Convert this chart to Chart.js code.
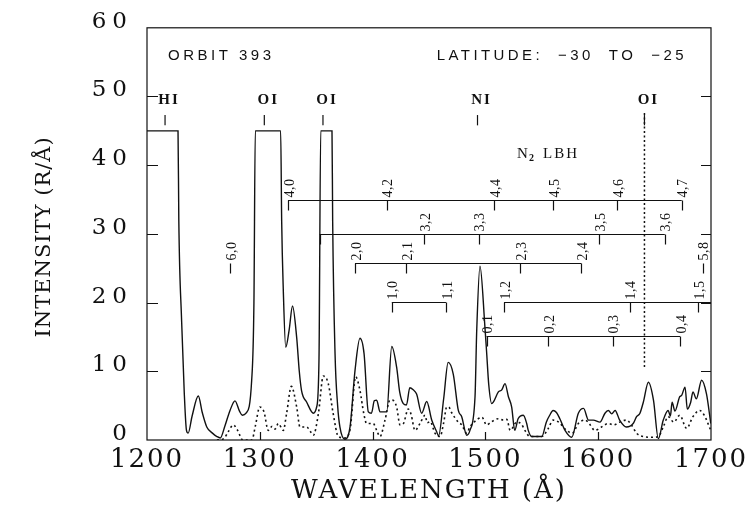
<!DOCTYPE html>
<html lang="en">
<head>
<meta charset="UTF-8">
<title>Orbit 393 FUV spectrum</title>
<script src="https://cdn.jsdelivr.net/npm/chart.js"></script>
<style>
  body { margin: 0; background: #fff; }
  #wrap { width: 755px; height: 510px; }
</style>
</head>
<body>
<div id="wrap"><canvas id="spectrum" width="755" height="510"></canvas></div>
<script>
// measured spectrum (solid)
const solidWave = [1200, 1227.5, 1228.2, 1230.7, 1233, 1235, 1236.5, 1240, 1245.5, 1249, 1253, 1258, 1262, 1265, 1269,
  1273.6, 1278, 1282, 1284.5, 1287.8, 1292.8, 1294.8, 1296, 1318.5, 1319.4, 1320.8, 1323, 1326, 1329, 1332.7, 1335,
  1337, 1341.6, 1347.5, 1350.4, 1352.5, 1354, 1364, 1364.6, 1366.7, 1369, 1371, 1375.5, 1380, 1384.4, 1388.8, 1392.4,
  1396.2, 1399, 1401.5, 1403.6, 1406.6, 1412.5, 1417, 1421.3, 1424, 1427.2, 1430, 1433, 1436, 1439, 1443.5, 1448,
  1452.4, 1456.8, 1458.5, 1463, 1467, 1471.5, 1476, 1479, 1483.4, 1486.3, 1490.8, 1492.3, 1495.2, 1499.6, 1501, 1503,
  1505.6, 1507, 1511.5, 1514.5, 1517.4, 1520.4, 1523.3, 1526, 1529, 1533.6, 1536.6, 1538, 1541, 1550, 1554, 1557,
  1560, 1563, 1566, 1570.6, 1576.5, 1582.4, 1587, 1591.4, 1595.7, 1601.6, 1606, 1609, 1612, 1615, 1619, 1625, 1631,
  1634, 1637, 1640, 1644.5, 1649, 1653.3, 1657.7, 1662, 1664, 1665.5, 1668, 1672.3, 1674, 1677, 1679, 1682, 1684,
  1687, 1691.7, 1696, 1699.8];
const solidInt = [45, 45, 32, 17.3, 7, 1.4, 1.0, 3.5, 6.4, 4, 1.9, 1.0, 0.5, 0.3, 2.0,
  4.3, 5.7, 4.2, 3.6, 3.9, 8.7, 20, 45, 45, 31.8, 22, 13.5, 16, 19.5, 14.9, 10,
  7.2, 5.5, 3.9, 4.8, 12, 45, 45, 31.8, 12.6, 5, 1.9, 0.1, 1.9, 10.1, 14.8, 12.6,
  4.1, 3.9, 5.7, 5.8, 4.1, 4.1, 13.6, 10.6, 7, 5.3, 5.1, 7.6, 7.3, 6.7, 3.9, 5.6,
  2.9, 1.2, 0.6, 6, 11.3, 9.6, 4.3, 3.4, 0.7, 1.4, 6.3, 15.9, 25.3, 16.4, 13, 8,
  5.3, 5.5, 7, 7.3, 8.2, 6.3, 4.8, 1.4, 3.1, 3.6, 2.4, 1.4, 0.5, 0.5, 2.6, 3.6,
  4.3, 4.0, 3.1, 1.4, 0.4, 3.9, 4.6, 2.9, 2.9, 2.6, 3.9, 4.3, 3.8, 4.3, 2.9, 1.9, 2.4,
  3.4, 3.9, 5.5, 8.4, 5.8, 0.2, 2.9, 4.3, 3.5, 5.5, 4.2, 6.3, 6.5, 7.7, 4.5, 5.5, 7,
  6, 8.7, 6.7, 2.4];

// dotted spectrum
const dottedWave = [1262, 1268, 1272, 1276.5, 1280, 1285, 1293, 1296, 1300, 1303.7, 1307.5, 1311, 1313.5, 1316.4,
  1320.8, 1323.8, 1328, 1332.7, 1335.6, 1341.6, 1345, 1347.5, 1352, 1356.3, 1360.7, 1365, 1369.6, 1375, 1380, 1385,
  1388.8, 1392, 1394.7, 1400.6, 1403.6, 1406.6, 1411, 1415.4, 1417.5, 1421.3, 1424.3, 1427.3, 1431.6, 1434, 1437.6,
  1442, 1446.5, 1448.5, 1451, 1455.3, 1459.8, 1463, 1465.7, 1467.5, 1470, 1476, 1479, 1483.4, 1486.3, 1493.7, 1497,
  1501, 1505, 1511.5, 1516, 1519, 1522, 1527.8, 1532, 1535, 1539.5, 1550, 1555.8, 1560, 1565, 1572, 1577, 1582.4,
  1588.3, 1592, 1597, 1603, 1609, 1614, 1619, 1625, 1629.5, 1634, 1640, 1648, 1653.3, 1657.7, 1662, 1667, 1672.3,
  1678.4, 1684, 1690, 1694, 1699.8];
const dottedInt = [0, 0.2, 1.2, 2.2, 1.5, 0, 0, 2, 4.8, 4.1, 1.4, 2, 1.6, 2.4,
  1.4, 3.9, 7.8, 4.8, 1.9, 1.9, 1.2, 0.7, 3.9, 9.3, 8.2, 3.9, 0.5, 0.3, 1.5, 9.2,
  7.2, 4, 2.4, 2.4, 1.4, 0.5, 2.9, 5.8, 5.8, 4.8, 2.2, 2.4, 4.5, 3.8, 1.4,
  2.4, 3.6, 2.5, 2.7, 1.0, 0.5, 2.5, 4.8, 4.8, 4.0, 2.6, 2.2, 1.0, 1.9, 3.1, 3.3,
  2.2, 2.6, 3.1, 2.9, 3.0, 1.4, 2.6, 2.3, 1.4, 0.5, 0.5, 1.7, 2.9, 2.6, 1.4, 1.0, 2.4,
  2.9, 2.4, 1.4, 1.9, 2.4, 2.2, 2.6, 2.9, 2.2, 1.0, 0.5, 0.4, 0.5, 1.9, 3.4, 2.6, 3.6,
  1.7, 3.4, 4.3, 3.6, 1.4];

const xTicks = [1200, 1300, 1400, 1500, 1600, 1700];
const yTicks = [0, 10, 20, 30, 40, 50, 60];

// atomic emission lines
const lineNames = ['HI', 'OI', 'OI', 'NI', 'OI'];
const lineWave = [1216, 1304, 1356, 1493, 1641];

// N2 LBH progressions (v',v'') drawn as brackets
const lbhLevel = [35, 30, 25.7, 20.1, 20.1, 15.2, 25.7];
const lbhFrom = [1325, 1353, 1384.4, 1417, 1516.5, 1501, null];
const lbhTo = [1674, 1659, 1585, 1465, 1700, 1672.5, null];
const lbhWave = [
  [1325, 1412.5, 1507.6, 1560, 1616.6, 1674],
  [1353, 1446, 1494, 1600.7, 1659],
  [1384.4, 1430, 1530.7, 1585],
  [1417, 1465],
  [1516.5, 1628, 1688.5],
  [1501, 1555.5, 1612.8, 1672.5],
  [1273.6, 1692.5]
];
const lbhBand = [
  ['4,0', '4,2', '4,4', '4,5', '4,6', '4,7'],
  ['', '3,2', '3,3', '3,5', '3,6'],
  ['2,0', '2,1', '2,3', '2,4'],
  ['1,0', '1,1'],
  ['1,2', '1,4', '1,5'],
  ['0,1', '0,2', '0,3', '0,4'],
  ['6,0', '5,8']
];

const ink = '#111';

// wide lettering of the axis numbers: x labels and title are drawn
// before the datasets, the y labels after them
const spacing = {
  id: 'spacing',
  beforeDraw(chart) { chart.ctx.letterSpacing = '2px'; },
  afterDatasetsDraw(chart) { chart.ctx.letterSpacing = '6px'; },
  afterDraw(chart) { chart.ctx.letterSpacing = '0px'; }
};

function text(ctx, str, px, py, font, sp, align) {
  ctx.font = font;
  ctx.letterSpacing = sp + 'px';
  ctx.textAlign = align || 'center';
  ctx.textBaseline = 'middle';
  ctx.fillText(str, px, py);
}

const annotate = {
  id: 'annotate',
  afterDraw(chart) {
    const { ctx, chartArea: a, scales: { x, y } } = chart;
    ctx.save();
    ctx.strokeStyle = ink;
    ctx.fillStyle = ink;
    ctx.lineWidth = 1.2;

    // frame and inward tick marks
    ctx.strokeRect(a.left, a.top, a.right - a.left, a.bottom - a.top);
    ctx.beginPath();
    yTicks.slice(1, -1).forEach(v => {
      const py = Math.round(y.getPixelForValue(v)) + 0.5;
      ctx.moveTo(a.left, py); ctx.lineTo(a.left + 11, py);
      ctx.moveTo(a.right, py); ctx.lineTo(a.right - 10, py);
    });
    xTicks.slice(1, -1).forEach(v => {
      const px = Math.round(x.getPixelForValue(v)) + 0.5;
      ctx.moveTo(px, a.bottom); ctx.lineTo(px, a.bottom - 8);
    });
    ctx.stroke();

    // header
    text(ctx, 'ORBIT 393', a.left + 21, 56, '15px "Liberation Sans"', 3.5, 'left');
    text(ctx, 'LATITUDE:  \u221230  TO  \u221225', a.right - 24, 56, '15px "Liberation Sans"', 3.4, 'right');

    // atomic line markers
    lineWave.forEach((w, i) => {
      const px = x.getPixelForValue(w);
      text(ctx, lineNames[i], px + 4, y.getPixelForValue(49.4), 'bold 15px "Liberation Serif"', 2);
      ctx.beginPath();
      ctx.moveTo(px, y.getPixelForValue(47.3));
      ctx.lineTo(px, y.getPixelForValue(45.8));
      ctx.stroke();
    });
    // dotted guide under the last OI line
    ctx.save();
    ctx.setLineDash([2, 2.5]);
    ctx.lineWidth = 1.5;
    const oiX = x.getPixelForValue(lineWave[4]);
    ctx.beginPath();
    ctx.moveTo(oiX, y.getPixelForValue(47.6));
    ctx.lineTo(oiX, y.getPixelForValue(10.4));
    ctx.stroke();
    ctx.restore();

    // N2 LBH title
    const nx = x.getPixelForValue(1528), ny = y.getPixelForValue(41.6);
    text(ctx, 'N', nx, ny, '15px "Liberation Serif"', 0, 'left');
    text(ctx, '2', nx + 12, ny + 4, 'bold 10px "Liberation Serif"', 0, 'left');
    text(ctx, 'LBH', nx + 26, ny, '15px "Liberation Serif"', 2, 'left');

    // LBH brackets
    lbhLevel.forEach((lev, r) => {
      const py = Math.round(y.getPixelForValue(lev)) + 0.5;
      ctx.beginPath();
      if (lbhFrom[r] !== null) {
        ctx.moveTo(x.getPixelForValue(lbhFrom[r]), py);
        ctx.lineTo(x.getPixelForValue(lbhTo[r]), py);
      }
      lbhWave[r].forEach(w => {
        const px = Math.round(x.getPixelForValue(w)) + 0.5;
        ctx.moveTo(px, py);
        ctx.lineTo(px, py + 10);
      });
      ctx.stroke();
      lbhWave[r].forEach((w, k) => {
        if (!lbhBand[r][k]) return;
        const px = x.getPixelForValue(w);
        ctx.save();
        ctx.translate(px + 2, py - 3);
        ctx.rotate(-Math.PI / 2);
        text(ctx, lbhBand[r][k], 0, 0, '14px "Liberation Serif"', 0.5, 'left');
        ctx.restore();
      });
    });

    // vertical axis title
    ctx.save();
    ctx.translate(45, (a.top + a.bottom) / 2 + 3);
    ctx.rotate(-Math.PI / 2);
    text(ctx, 'INTENSITY (R/\u00c5)', 0, 0, '21px "DejaVu Serif"', 1, 'center');
    ctx.restore();

    ctx.restore();
  }
};

const toPoints = (xs, ys) => xs.map((w, i) => ({ x: w, y: ys[i] }));

new Chart(document.getElementById('spectrum'), {
  type: 'line',
  data: {
    datasets: [
      {
        data: toPoints(solidWave, solidInt),
        borderColor: ink,
        borderWidth: 1.4,
        pointRadius: 0,
        cubicInterpolationMode: 'monotone'
      },
      {
        data: toPoints(dottedWave, dottedInt),
        borderColor: ink,
        borderWidth: 1.6,
        borderDash: [2, 3],
        pointRadius: 0,
        cubicInterpolationMode: 'monotone'
      }
    ]
  },
  options: {
    responsive: false,
    animation: false,
    devicePixelRatio: 1,
    layout: { padding: { top: 25, right: 44, left: 0, bottom: 0 } },
    plugins: { legend: { display: false }, tooltip: { enabled: false } },
    scales: {
      x: {
        type: 'linear',
        min: 1200,
        max: 1700,
        afterBuildTicks: s => { s.ticks = xTicks.map(v => ({ value: v })); },
        grid: { display: false, drawTicks: false },
        border: { display: false },
        ticks: {
          font: { family: 'DejaVu Serif', size: 26 },
          color: ink,
          padding: 5,
          maxRotation: 0,
          autoSkip: false,
          callback: v => String(v)
        },
        title: {
          display: true,
          text: 'WAVELENGTH (\u00c5)',
          font: { family: 'DejaVu Serif', size: 26 },
          color: ink,
          padding: { top: 0, bottom: 3 }
        },
        afterFit: s => { s.height = 70; }
      },
      y: {
        min: 0,
        max: 60,
        z: 1,
        afterBuildTicks: s => { s.ticks = yTicks.map(v => ({ value: v })); },
        grid: { display: false, drawTicks: false },
        border: { display: false },
        ticks: {
          z: 1,
          font: { family: 'DejaVu Serif', size: 23 },
          color: ink,
          padding: 14,
          labelOffset: -6,
          callback: v => String(v)
        },
        afterFit: s => { s.width = 147; }
      }
    }
  },
  plugins: [spacing, annotate]
});
</script>
</body>
</html>
